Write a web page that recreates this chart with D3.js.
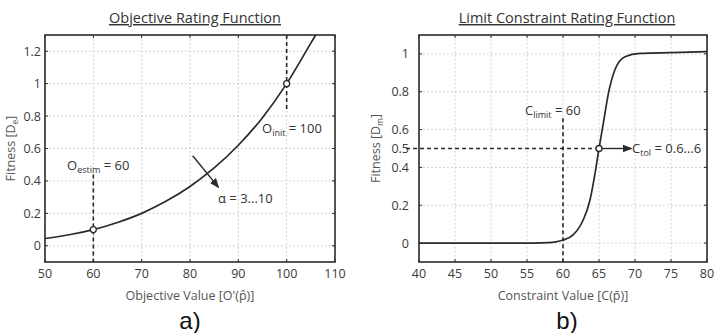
<!DOCTYPE html>
<html>
<head>
<meta charset="utf-8">
<script src="https://cdn.jsdelivr.net/npm/d3@7"></script>
<style>
body{margin:0;background:#fff;}
text{font-family:"Open Sans",Lato,sans-serif;fill:#333;}
.tick{font-size:12.5px;fill:#3a3a3a;}
.axlabel{font-size:12.5px;fill:#555;}
.title{font-size:14.5px;fill:#333;text-decoration:underline;}
.note{font-size:13px;fill:#333;}
.panel{font-family:"Liberation Sans",Arial,sans-serif;font-size:24px;fill:#111;}
</style>
</head>
<body>
<svg id="chart" width="719" height="333"></svg>
<script>
// objective rating function (left)
const objX = [50, 55, 60, 65, 70, 75, 80, 85, 90, 95, 100, 105, 106];
const objY = [0.045, 0.068, 0.1, 0.144, 0.2, 0.274, 0.366, 0.48, 0.62, 0.79, 1.0, 1.25, 1.3];
const objXTicks = [50, 60, 70, 80, 90, 100, 110];
const objYTicks = [0, 0.2, 0.4, 0.6, 0.8, 1, 1.2];
const objPoints = [[60, 0.1], [100, 1]];

// limit constraint rating function (right)
const conX = [40, 50, 56, 58, 59, 60, 61.4, 62.8, 63.75, 64.45, 65, 65.6, 66.3, 67.2, 68.6, 70.7, 75, 80];
const conY = [0, 0, 0, 0.002, 0.006, 0.016, 0.043, 0.122, 0.228, 0.369, 0.5, 0.633, 0.79, 0.915, 0.985, 1.003, 1.007, 1.012];
const conXTicks = [40, 45, 50, 55, 60, 65, 70, 75, 80];
const conYTicks = [0, 0.2, 0.4, 0.6, 0.8, 1];
const conYLabels = [0, 0.2, 0.4, 0.5, 0.6, 0.8, 1];
const conPoints = [[65, 0.5]];

const svg = d3.select("#chart");
const ink = "#2a2a2a";

svg.append("defs").append("marker")
  .attr("id", "arr").attr("viewBox", "0 0 10 10")
  .attr("refX", 9).attr("refY", 5)
  .attr("markerWidth", 7).attr("markerHeight", 7)
  .attr("orient", "auto")
  .append("path").attr("d", "M0,1 L10,5 L0,9 Z").attr("fill", ink);

function drawPanel(cfg){
  const x = d3.scaleLinear().domain(cfg.xDomain).range([cfg.left, cfg.right]);
  const y = d3.scaleLinear().domain(cfg.yDomain).range([cfg.bottom, cfg.top]);
  const g = svg.append("g");

  // dotted grid
  g.selectAll(".gx").data(cfg.xTicks.slice(1, -1)).enter().append("line")
    .attr("x1", d => x(d)).attr("x2", d => x(d))
    .attr("y1", cfg.top).attr("y2", cfg.bottom)
    .attr("stroke", "#c4c4c4").attr("stroke-width", 1).attr("stroke-dasharray", "1.5,2.5");
  g.selectAll(".gy").data(cfg.yTicks).enter().append("line")
    .attr("x1", cfg.left).attr("x2", cfg.right)
    .attr("y1", d => y(d)).attr("y2", d => y(d))
    .attr("stroke", "#c4c4c4").attr("stroke-width", 1).attr("stroke-dasharray", "1.5,2.5");

  // inward ticks on all sides
  const tl = 3;
  cfg.xTicks.forEach(t => {
    g.append("line").attr("x1", x(t)).attr("x2", x(t)).attr("y1", cfg.bottom).attr("y2", cfg.bottom - tl).attr("stroke", ink);
    g.append("line").attr("x1", x(t)).attr("x2", x(t)).attr("y1", cfg.top).attr("y2", cfg.top + tl).attr("stroke", ink);
  });
  cfg.yTicks.forEach(t => {
    g.append("line").attr("x1", cfg.left).attr("x2", cfg.left + tl).attr("y1", y(t)).attr("y2", y(t)).attr("stroke", ink);
    g.append("line").attr("x1", cfg.right).attr("x2", cfg.right - tl).attr("y1", y(t)).attr("y2", y(t)).attr("stroke", ink);
  });

  // tick labels
  g.selectAll(".xl").data(cfg.xTicks).enter().append("text")
    .attr("class", "tick").attr("text-anchor", "middle")
    .attr("x", d => x(d)).attr("y", cfg.bottom + 16).text(d => d);
  g.selectAll(".yl").data(cfg.yLabels).enter().append("text")
    .attr("class", "tick").attr("text-anchor", "end")
    .attr("x", cfg.left - cfg.yLabelGap).attr("y", d => y(d) + 4.5).text(d => d);

  // axis labels
  g.append("text").attr("class", "axlabel").attr("text-anchor", "middle")
    .attr("x", (cfg.left + cfg.right) / 2).attr("y", cfg.bottom + 38).text(cfg.xLabel);
  const yl = g.append("text").attr("class", "axlabel").attr("text-anchor", "middle")
    .attr("transform", "translate(" + cfg.yLabelX + "," + (cfg.top + cfg.bottom) / 2 + ") rotate(-90)");
  yl.append("tspan").text("Fitness [D");
  yl.append("tspan").attr("font-size", 8.5).attr("dy", 3).text(cfg.ySub);
  yl.append("tspan").attr("dy", -3).text("]");

  // title and panel letter
  g.append("text").attr("class", "title").attr("text-anchor", "middle")
    .attr("x", cfg.titleX).attr("y", 23).text(cfg.title);
  g.append("text").attr("class", "panel").attr("text-anchor", "middle")
    .attr("x", cfg.panelX).attr("y", 329).text(cfg.panel);

  // frame
  g.append("rect").attr("x", cfg.left).attr("y", cfg.top)
    .attr("width", cfg.right - cfg.left).attr("height", cfg.bottom - cfg.top)
    .attr("fill", "none").attr("stroke", ink).attr("stroke-width", 1.6);

  return {x: x, y: y, g: g};
}

function dashed(p, a, b){
  p.g.append("line")
    .attr("x1", p.x(a[0])).attr("y1", p.y(a[1]))
    .attr("x2", p.x(b[0])).attr("y2", p.y(b[1]))
    .attr("stroke", ink).attr("stroke-width", 1.6).attr("stroke-dasharray", "4,3");
}

function curve(p, xs, ys){
  const pts = xs.map((v, i) => [v, ys[i]]);
  p.g.append("path").datum(pts)
    .attr("d", d3.line().x(d => p.x(d[0])).y(d => p.y(d[1])).curve(d3.curveMonotoneX))
    .attr("fill", "none").attr("stroke", ink).attr("stroke-width", 1.7);
}

function circles(p, pts){
  p.g.selectAll(".pt").data(pts).enter().append("circle")
    .attr("cx", d => p.x(d[0])).attr("cy", d => p.y(d[1])).attr("r", 3)
    .attr("fill", "#fff").attr("stroke", ink).attr("stroke-width", 1.3);
}

function note(p, px, py, main, sub, rest){
  const t = p.g.append("text").attr("class", "note").attr("x", px).attr("y", py);
  t.append("tspan").text(main);
  if(sub){
    t.append("tspan").attr("font-size", 9).attr("dy", 3).text(sub);
    t.append("tspan").attr("dy", -3).text(rest);
  }
}

// left panel
const left = drawPanel({
  left: 45, right: 335, top: 35, bottom: 262,
  xDomain: [50, 110], yDomain: [-0.1, 1.3],
  xTicks: objXTicks, yTicks: objYTicks, yLabels: objYTicks, yLabelGap: 4,
  xLabel: "Objective Value [O'(p\u0302)]", ySub: "e", yLabelX: 15,
  title: "Objective Rating Function", titleX: 195, panel: "a)", panelX: 190
});
dashed(left, [60, 0.44], [60, -0.1]);
dashed(left, [100, 1.3], [100, 0.83]);
curve(left, objX, objY);
circles(left, objPoints);
left.g.append("line")
  .attr("x1", left.x(80.56)).attr("y1", left.y(0.555))
  .attr("x2", left.x(85.9)).attr("y2", left.y(0.36))
  .attr("stroke", ink).attr("stroke-width", 1.4).attr("marker-end", "url(#arr)");
note(left, 67, 170, "O", "estim", " = 60");
note(left, 262, 133, "O", "init", " = 100");
note(left, 218, 203, "\u03b1 = 3...10");

// right panel
const right = drawPanel({
  left: 419, right: 707, top: 35, bottom: 262,
  xDomain: [40, 80], yDomain: [-0.1, 1.1],
  xTicks: conXTicks, yTicks: conYTicks, yLabels: conYLabels, yLabelGap: 10,
  xLabel: "Constraint Value [C(p\u0304)]", ySub: "m", yLabelX: 380,
  title: "Limit Constraint Rating Function", titleX: 567, panel: "b)", panelX: 567
});
dashed(right, [38.2, 0.5], [65, 0.5]);
dashed(right, [60, 0.66], [60, -0.1]);
curve(right, conX, conY);
right.g.append("line")
  .attr("x1", right.x(65.4)).attr("y1", right.y(0.5))
  .attr("x2", right.x(69.5)).attr("y2", right.y(0.5))
  .attr("stroke", ink).attr("stroke-width", 1.4).attr("marker-end", "url(#arr)");
circles(right, conPoints);
note(right, 525, 115, "C", "limit", " = 60");
note(right, 632, 153, "C", "tol", " = 0.6...6");
</script>
</body>
</html>
